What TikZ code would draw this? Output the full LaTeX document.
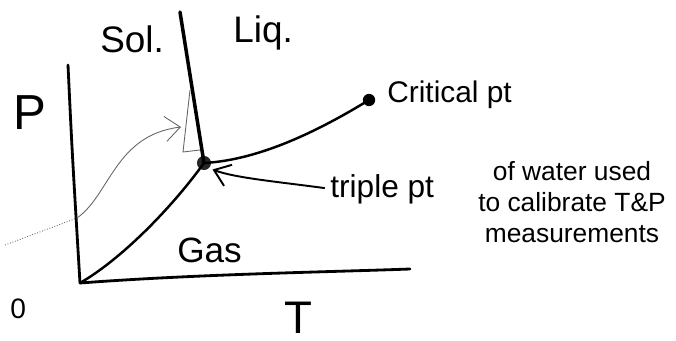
\documentclass[tikz,border=0pt]{standalone}
\usepackage{fontspec}
\setmainfont{Liberation Sans}
\usetikzlibrary{arrows.meta}
\tikzset{
  axisline/.style={line width=1.6pt, line cap=round},
  phaseline/.style={line width=1.4pt, line cap=round},
  thinline/.style={line width=0.5pt, draw=black!60},
  phasedot/.style={circle, fill=black, inner sep=0pt, minimum size=#1},
  hand/.style={inner sep=0pt, anchor=base west, font=\fontsize{#1}{#1}\selectfont}
}
\begin{document}
\begin{tikzpicture}[x=0.02cm, y=-0.02cm]
\useasboundingbox (0,0) rectangle (676,341);
% axes
\coordinate (origin) at (80,283);
\coordinate (ptop) at (68,65);
\coordinate (tend) at (410,269);
\draw[axisline] (ptop) .. controls (72,150) .. (origin);
\draw[axisline] (origin) .. controls (200,274) and (330,272) .. (tend);
\node[hand=28] (plabel) at (13,130) {P};
\node[hand=26] (tlabel) at (284,333) {T};
\node[hand=16] (zero) at (10,318) {0};
% phase boundaries
\node[phasedot=8pt, fill=black!85] (triple) at (204,163) {};
\node[phasedot=7pt] (critical) at (369,100) {};
\coordinate (melttop) at (180,12);
\draw[phaseline, line width=2pt] (melttop) -- (triple.center);
\draw[phaseline] (origin) .. controls (120,260) and (170,210) .. (triple.center);
\draw[phaseline] (triple.center) .. controls (260,160) and (320,130) .. (critical.center);
% region labels
\node[hand=21] (sol) at (100,53) {Sol.};
\node[hand=21] (liq) at (233,43) {Liq.};
\node[hand=20] (gas) at (177,262) {Gas};
\node[hand=17] (critlabel) at (387,103) {Critical pt};
% triple point note
\node[hand=18] (tplabel) at (330,197) {triple pt};
\node[inner sep=0pt, align=center, font=\fontsize{15}{17.5}\selectfont] (tpnote) at (572,202)
  {of water used\\to calibrate T\&P\\measurements};
\draw[line width=1.1pt, -{Straight Barb[length=3mm, width=4.5mm]}, shorten <=3pt, shorten >=2pt]
  (tplabel.west) .. controls (280,182) and (235,178) .. (triple.south east);
% sketch near the melting line
\coordinate (wa) at (190,90);
\coordinate (wb) at (183,152);
\coordinate (wc) at (200,150);
\draw[thinline] (wa) -- (wb) -- (wc);
\coordinate (farleft) at (5,245);
\coordinate (onaxis) at (77,218);
\draw[thinline, densely dotted] (farleft) -- (onaxis);
\draw[thinline, -{Straight Barb[length=3mm, width=5mm]}] (onaxis) .. controls (110,195) and (115,135) .. (181,127);
\end{tikzpicture}
\end{document}
